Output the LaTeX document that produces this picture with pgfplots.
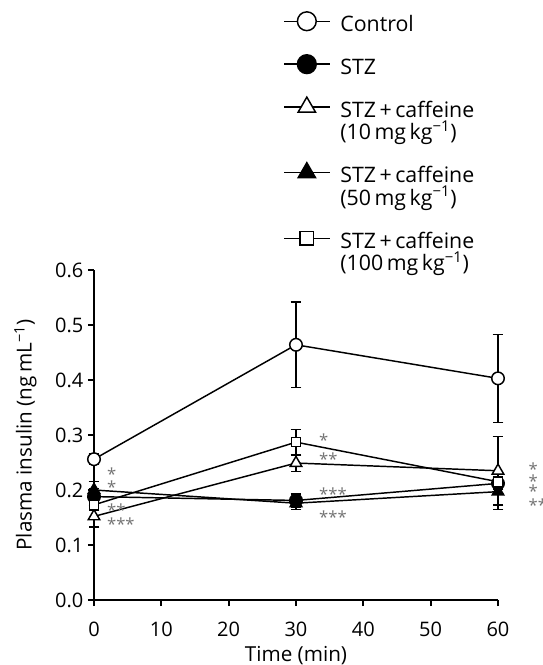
\documentclass[border=0pt]{standalone}
\usepackage{fontspec}
\setmainfont{Open Sans}
\usepackage{pgfplots}
\pgfplotsset{compat=1.18}
\definecolor{Star}{gray}{0.45}
\pgfplotsset{
  ebar/.style={error bars/.cd, y dir=both, y explicit,
    error bar style={line width=1.1pt, black},
    error mark options={rotate=90, mark size=4pt, line width=1.1pt, black}},
}
\tikzset{sig/.style={anchor=west, inner sep=0pt, text=Star, font=\fontsize{12.5}{12.5}\selectfont, yshift=-3pt}}
% fixed first-line height and last-line depth for legend texts
\newcommand{\lt}{\rule{0pt}{13pt}}
\newcommand{\lb}{\rule[-4pt]{0pt}{4pt}}
\begin{document}
\begin{tikzpicture}
\useasboundingbox (-70.5pt,-48.75pt) rectangle (336.75pt,450pt);
\begin{axis}[at={(0,0)}, anchor=south west, scale only axis,
  width=303pt, height=247.5pt,
  xmin=0, xmax=60, ymin=0, ymax=0.6,
  xtick={0,10,20,30,40,50,60}, ytick={0,0.1,0.2,0.3,0.4,0.5,0.6},
  axis lines=left, axis line style={-, line width=1.8pt},
  tick style={line width=1.5pt, black}, tick align=outside, major tick length=4.5pt,
  yticklabel style={/pgf/number format/fixed, /pgf/number format/fixed zerofill, /pgf/number format/precision=1},
  xticklabel style={yshift=-8.5pt},
  /pgf/number format/assume math mode=true,
  tick label style={font=\fontsize{15}{18}\selectfont},
  label style={font=\fontsize{15.5}{18}\selectfont},
  xlabel={Time (min)}, ylabel={Plasma insulin (ng\,mL\textsuperscript{−1})},
  xlabel shift=0pt, ylabel shift=7pt,
  clip=false,
  legend style={draw=none, fill=none, inner sep=0pt, at={(0.468,1.786)}, anchor=north west,
    font=\fontsize{16}{17}\selectfont, row sep=13.5pt, column sep=5.5pt,
    cells={anchor=north west, align=left}},
  legend image code/.code={\draw[mark repeat=2,mark phase=2] plot coordinates {(0cm,0cm)(0.6cm,0cm)(1.2cm,0cm)};},
  legend image post style={yshift=-7.75pt, every mark/.append style={scale=1.5}},
  every axis plot/.append style={line width=1.1pt, black},
]
\addplot[mark=*, mark size=4.7pt, mark options={fill=white, line width=1.1pt}, ebar] coordinates {
  (0,0.256) +- (0,0.010)
  (30,0.464) +- (0,0.078)
  (60,0.403) +- (0,0.080)
};
\addlegendentry{\lt\lb Control}
\addplot[mark=*, mark size=4.7pt, mark options={fill=black}, ebar] coordinates {
  (0,0.188) +- (0,0.015)
  (30,0.181) +- (0,0.012)
  (60,0.212) +- (0,0.010)
};
\addlegendentry{\lt\lb STZ}
\addplot[mark=triangle*, mark size=5pt, mark options={fill=white, line width=1.1pt}, ebar] coordinates {
  (0,0.152) +- (0,0.019)
  (30,0.249) +- (0,0.015)
  (60,0.235) +- (0,0.062)
};
\addlegendentry{\lt STZ\,+\,caffeine\\\lb(10\,mg\,kg\textsuperscript{−1})}
\addplot[mark=triangle*, mark size=5pt, mark options={fill=black}, ebar] coordinates {
  (0,0.200) +- (0,0.015)
  (30,0.176) +- (0,0.011)
  (60,0.197) +- (0,0.032)
};
\addlegendentry{\lt STZ\,+\,caffeine\\\lb(50\,mg\,kg\textsuperscript{−1})}
\addplot[mark=square*, mark size=3.4pt, mark options={fill=white, line width=1.1pt}, ebar] coordinates {
  (0,0.173) +- (0,0.010)
  (30,0.287) +- (0,0.023)
  (60,0.215) +- (0,0.010)
};
\addlegendentry{\lt STZ\,+\,caffeine\\\lb(100\,mg\,kg\textsuperscript{−1})}
% significance marks
\node[sig] at (axis cs:1.9,0.236) {*};
\node[sig] at (axis cs:1.9,0.212) {*};
\node[sig] at (axis cs:1.9,0.170) {**};
\node[sig] at (axis cs:1.9,0.145) {***};
\node[sig] at (axis cs:33.4,0.297) {*};
\node[sig] at (axis cs:33.4,0.264) {**};
\node[sig] at (axis cs:33.4,0.199) {***};
\node[sig] at (axis cs:33.4,0.158) {***};
\node[sig] at (axis cs:64.5,0.245) {*};
\node[sig] at (axis cs:64.5,0.224) {*};
\node[sig] at (axis cs:64.5,0.206) {*};
\node[sig] at (axis cs:64.5,0.179) {**};
\end{axis}
\end{tikzpicture}
\end{document}
